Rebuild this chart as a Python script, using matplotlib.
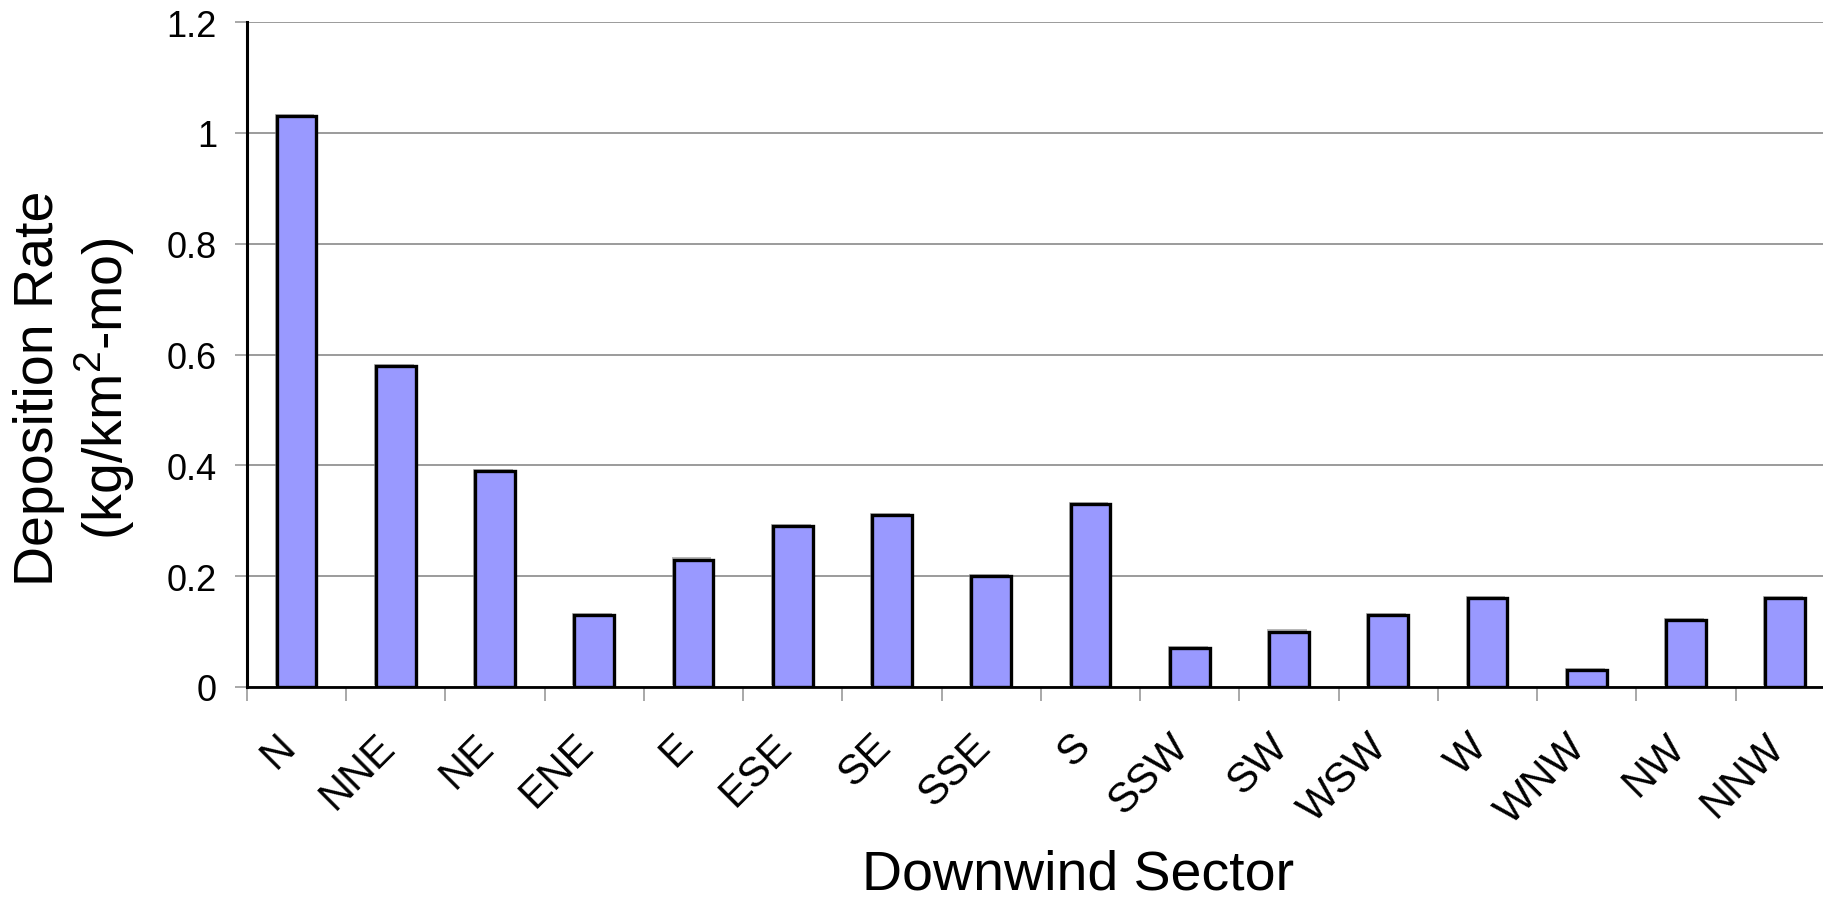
import matplotlib
matplotlib.use("Agg")
import matplotlib.pyplot as plt
from matplotlib.transforms import ScaledTranslation
import matplotlib.patheffects as pe
import numpy as np

sectors = ["N", "NNE", "NE", "ENE", "E", "ESE", "SE", "SSE",
           "S", "SSW", "SW", "WSW", "W", "WNW", "NW", "NNW"]
deposition = [1.03, 0.58, 0.39, 0.13, 0.23, 0.29, 0.31, 0.20,
              0.33, 0.07, 0.10, 0.13, 0.16, 0.03, 0.12, 0.16]
y_ticks = [0, 0.2, 0.4, 0.6, 0.8, 1.0, 1.2]
y_tick_labels = ["0", "0.2", "0.4", "0.6", "0.8", "1", "1.2"]

plt.rcParams['font.family'] = ['Liberation Sans', 'DejaVu Sans']
plt.rcParams['mathtext.fontset'] = 'custom'
plt.rcParams['mathtext.rm'] = 'Liberation Sans'

fig = plt.figure(figsize=(18.24, 9.03), dpi=100)
ax = fig.add_axes([0.1354, 0.2381, 0.8706, 0.7364])

x = np.arange(len(sectors))
bars = ax.bar(x, deposition, width=0.4, color='#9999FF', edgecolor='black',
              linewidth=2.4, zorder=3)
for b in bars:
    b.set_path_effects([pe.SimplePatchShadow(offset=(-1.5, 1.5), shadow_rgbFace='#8a8a8a', alpha=0.6),
                        pe.Normal()])

ax.set_xlim(-0.5, len(sectors) - 0.5)
ax.set_ylim(0, 1.2)

ax.set_yticks(y_ticks)
ax.set_yticklabels(y_tick_labels, fontsize=26)
ax.yaxis.grid(True, color='#939393', linewidth=1.3, zorder=0)
ax.set_axisbelow(True)
ax.tick_params(axis='y', direction='out', length=8.5, width=1.2, color='#999999', pad=13)

ax.set_xticks(x)
ax.set_xticklabels(sectors, fontsize=30, rotation=45, ha='right', va='top')
ax.set_xticks(np.arange(-0.5, len(sectors), 1.0), minor=True)
ax.tick_params(axis='x', which='major', length=0, pad=28)
ax.tick_params(axis='x', which='minor', direction='out', length=10, width=1.2, color='#999999')
off = ScaledTranslation(7 / 100, 0, fig.dpi_scale_trans)
for lbl in ax.get_xticklabels():
    lbl.set_transform(lbl.get_transform() + off)

for s in ['top', 'right']:
    ax.spines[s].set_visible(False)
ax.spines['left'].set_linewidth(2.2)
ax.spines['bottom'].set_linewidth(2.0)
ax.spines['left'].set_zorder(4)
ax.spines['bottom'].set_zorder(4)

fig.text(0.041, 0.570, "Deposition Rate\n(kg/km$^{\\mathrm{2}}$-mo)", rotation=90,
         ha='center', va='center', multialignment='center', fontsize=40, linespacing=1.15)
fig.text(0.591, 0.002, "Downwind Sector", ha='center', va='bottom', fontsize=40)

fig.savefig("out.png", dpi=100)
